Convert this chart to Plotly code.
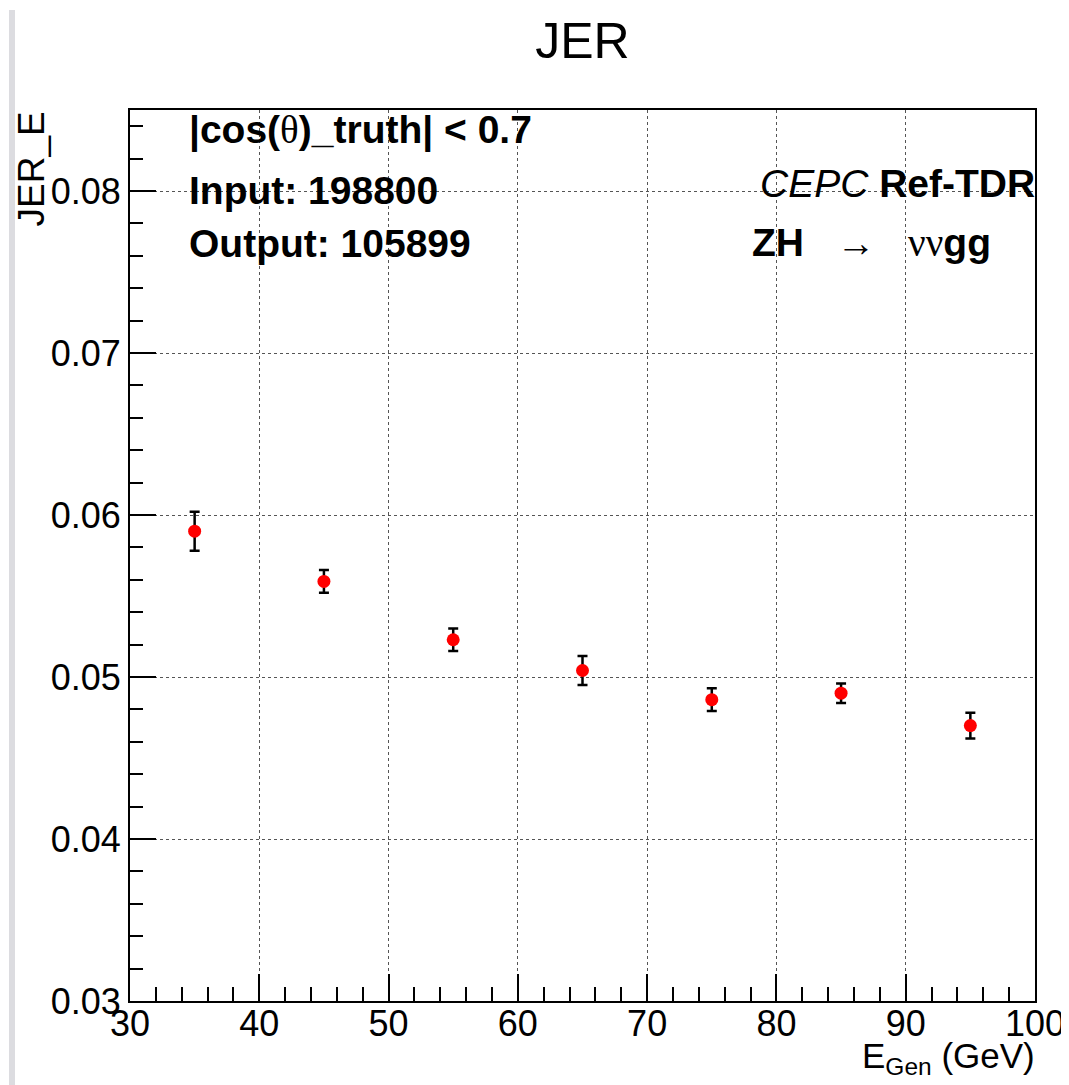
import plotly.graph_objects as go

# Data
e_gen = [35, 45, 55, 65, 75, 85, 95]
jer_e = [0.0590, 0.0559, 0.0523, 0.0504, 0.0486, 0.0490, 0.0470]
jer_err = [0.0012, 0.0007, 0.0007, 0.0009, 0.0007, 0.0006, 0.0008]

x_ticks = [30, 40, 50, 60, 70, 80, 90, 100]
y_ticks = [0.03, 0.04, 0.05, 0.06, 0.07, 0.08]
y_tick_labels = ["0.03", "0.04", "0.05", "0.06", "0.07", "0.08"]

W, H = 1069, 1085
OFF = 8  # page body margin
L, R, T, B = 130 - OFF, 1035 - OFF, 110 - OFF, 1001 - OFF
FONT = "Liberation Sans, Arial, Helvetica, sans-serif"
SYM = "Liberation Serif, Times New Roman, serif"


def px(x):
    return (x - OFF - L) / (R - L)


def py(y):
    return (B - (y - OFF)) / (B - T)


fig = go.Figure()
fig.add_trace(go.Scatter(
    x=e_gen, y=jer_e, mode="markers",
    marker=dict(color="#ff0000", size=13, line=dict(width=0)),
    error_y=dict(type="data", array=jer_err, visible=True,
                 color="#000000", thickness=2.5, width=5),
    showlegend=False,
))

axis_common = dict(
    showline=True, linecolor="#000000", linewidth=2, mirror=True,
    ticks="inside", tickcolor="#000000", tickwidth=1.5,
    showgrid=True, gridcolor="#555555", griddash="dot", gridwidth=1.2,
    zeroline=False,
    tickfont=dict(family=FONT, size=36, color="#000000"),
)

fig.update_xaxes(
    range=[30, 100], tickvals=x_ticks, ticklen=27, ticklabelstandoff=-10,
    minor=dict(dtick=2, ticks="inside", ticklen=14, tickcolor="#000000", tickwidth=1.5, showgrid=False),
    **axis_common,
)
fig.update_yaxes(
    range=[0.03, 0.085], tickvals=y_ticks, ticktext=y_tick_labels, ticklen=26,
    minor=dict(dtick=0.002, ticks="inside", ticklen=13, tickcolor="#000000", tickwidth=1.5, showgrid=False),
    **axis_common,
)

annotations = [
    dict(text="<b>|cos(</b><span style='font-family:" + SYM + "'>θ</span><b>)_truth| &lt; 0.7</b>",
         x=px(187), y=py(130), xanchor="left", yanchor="middle", font=dict(size=39)),
    dict(text="<b>Input: 198800</b>", x=px(187), y=py(190), xanchor="left", yanchor="middle", font=dict(size=39)),
    dict(text="<b>Output: 105899</b>", x=px(187), y=py(243), xanchor="left", yanchor="middle", font=dict(size=39)),
    dict(text="<i>CEPC</i> <b>Ref-TDR</b>", x=px(1037), y=py(184), xanchor="right", yanchor="middle", font=dict(size=39)),
    dict(text="<b>ZH</b>   <span style='font-family:" + SYM + "'>→</span>   <span style='font-family:" + SYM + "'>νν</span><b>gg</b>",
         x=px(750), y=py(242), xanchor="left", yanchor="middle", font=dict(size=39)),
    dict(text="JER_E", x=px(31), y=py(110), xanchor="center", yanchor="top", textangle=-90,
         font=dict(size=37)),
    dict(text="E<sub>Gen</sub> (GeV)", x=px(1037), y=py(1058), xanchor="right", yanchor="middle",
         font=dict(size=35)),
]
for a in annotations:
    a.update(xref="paper", yref="paper", showarrow=False)
    a["font"].update(family=FONT, color="#000000")

fig.update_layout(
    width=W, height=H,
    margin=dict(l=L, r=W - R, t=T, b=H - B, autoexpand=False),
    paper_bgcolor="#ffffff", plot_bgcolor="#ffffff",
    title=dict(text="JER", x=0.5, xref="paper", y=1 - (40 - OFF) / H, yref="container",
               xanchor="center", yanchor="middle",
               font=dict(family=FONT, size=50, color="#000000")),
    annotations=annotations,
    shapes=[dict(type="rect", xref="paper", yref="paper", x0=px(9), x1=px(15), y0=py(H + OFF), y1=py(10),
                 fillcolor="#dcdce0", line=dict(width=0), layer="below")],
    font=dict(family=FONT),
)

fig.write_html("out.html")
